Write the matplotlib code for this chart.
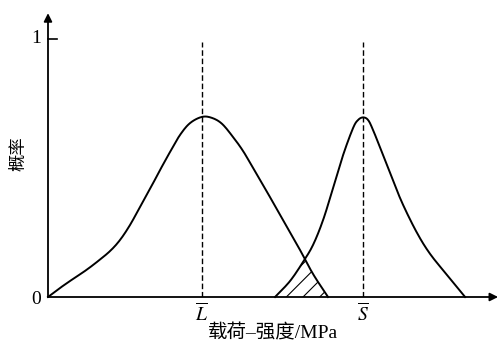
#!/usr/bin/env python3

import matplotlib
matplotlib.use('Agg')
import matplotlib.pyplot as plt
import numpy as np

# load (stress) distribution
load_x = [0, 2.67, 5.56, 8.22, 10.89, 13.78, 16.0, 18.22, 20.44, 22.67, 24.89, 27.11,
          29.33, 31.56, 34.22, 36.44, 38.67, 41.11, 43.33, 45.56, 48.67, 52.22, 56.0,
          58.89, 62.22]
load_p = [0, 0.035, 0.070, 0.101, 0.136, 0.178, 0.221, 0.279, 0.349, 0.419, 0.492, 0.562,
          0.628, 0.674, 0.698, 0.694, 0.671, 0.620, 0.566, 0.500, 0.407, 0.298, 0.182,
          0.089, 0]

# strength distribution
strength_x = [50.44, 53.78, 56.67, 58.89, 61.11, 63.33, 65.56, 67.78, 68.89, 70.0,
              71.11, 72.22, 74.44, 76.67, 78.89, 82.0, 84.89, 88.67, 92.67]
strength_p = [0, 0.062, 0.136, 0.202, 0.298, 0.422, 0.550, 0.655, 0.686, 0.696,
              0.686, 0.647, 0.550, 0.450, 0.357, 0.248, 0.167, 0.085, 0]

L_mean = 34.2
S_mean = 70.0


def smooth(x, y, n=12):
    # Catmull-Rom pass through the read points, just so the pen line looks round
    x = np.asarray(x, float)
    y = np.asarray(y, float)
    px = np.concatenate([[2 * x[0] - x[1]], x, [2 * x[-1] - x[-2]]])
    py = np.concatenate([[2 * y[0] - y[1]], y, [2 * y[-1] - y[-2]]])
    t = np.linspace(0, 1, n, endpoint=False)
    out_x, out_y = [], []
    for i in range(1, len(px) - 2):
        for p, out in ((px, out_x), (py, out_y)):
            p0, p1, p2, p3 = p[i - 1], p[i], p[i + 1], p[i + 2]
            out.extend(0.5 * (2 * p1 + (-p0 + p2) * t + (2 * p0 - 5 * p1 + 4 * p2 - p3) * t ** 2
                              + (-p0 + 3 * p1 - 3 * p2 + p3) * t ** 3))
    out_x.append(x[-1])
    out_y.append(y[-1])
    return np.array(out_x), np.array(out_y)


plt.rcParams['font.family'] = ['Liberation Serif', 'Noto Sans CJK SC']
plt.rcParams['mathtext.fontset'] = 'stix'
plt.rcParams['hatch.linewidth'] = 0.8

fig = plt.figure(figsize=(4.99, 3.51), dpi=100)
ax = fig.add_axes([48 / 499, 54 / 351, 451 / 499, 289 / 351])
ax.set_xlim(0, 100.2)
ax.set_ylim(0, 1.12)
ax.axis('off')

# curves
lx, ly = smooth(load_x, load_p)
sx, sy = smooth(strength_x, strength_p)
ax.plot(lx, np.clip(ly, 0, None), color='black', lw=1.4, clip_on=False)
ax.plot(sx, np.clip(sy, 0, None), color='black', lw=1.4, clip_on=False)

# interference area
xs = np.linspace(strength_x[0], load_x[-1], 200)
overlap = np.minimum(np.interp(xs, lx, ly), np.interp(xs, sx, sy))
ax.fill_between(xs, 0, np.clip(overlap, 0, None), facecolor='none', edgecolor='black',
                hatch='//', linewidth=0)

# mean lines
ax.vlines([L_mean, S_mean], 0, 0.988, colors='black', linestyles=(0, (4, 2)), lw=1.0)

# axes with arrows
ax.annotate('', xy=(100.0, 0), xytext=(0, 0),
            arrowprops=dict(arrowstyle='-|>', lw=1.3, color='black', mutation_scale=12,
                            shrinkA=0, shrinkB=0), annotation_clip=False)
ax.annotate('', xy=(0, 1.10), xytext=(0, 0),
            arrowprops=dict(arrowstyle='-|>', lw=1.3, color='black', mutation_scale=12,
                            shrinkA=0, shrinkB=0), annotation_clip=False)
ax.plot([0, 2.0], [1, 1], color='black', lw=1.2, clip_on=False)

ax.text(-1.5, 1.0, '1', ha='right', va='center', fontsize=14, clip_on=False)
ax.text(-1.5, -0.01, '0', ha='right', va='center', fontsize=14, clip_on=False)
ax.text(-6.5, 0.555, '概率', rotation=90, ha='center', va='center', fontsize=12.5,
        family=['Noto Sans CJK SC'], clip_on=False)

ax.text(L_mean, -0.065, r'$\overline{L}$', ha='center', va='center', fontsize=14, clip_on=False)
ax.text(S_mean, -0.065, r'$\overline{S}$', ha='center', va='center', fontsize=14, clip_on=False)
ax.text(50.0, -0.14, '载荷–强度/MPa', ha='center', va='center', fontsize=14, clip_on=False)

plt.savefig('out.png', dpi=100)
plt.close()
